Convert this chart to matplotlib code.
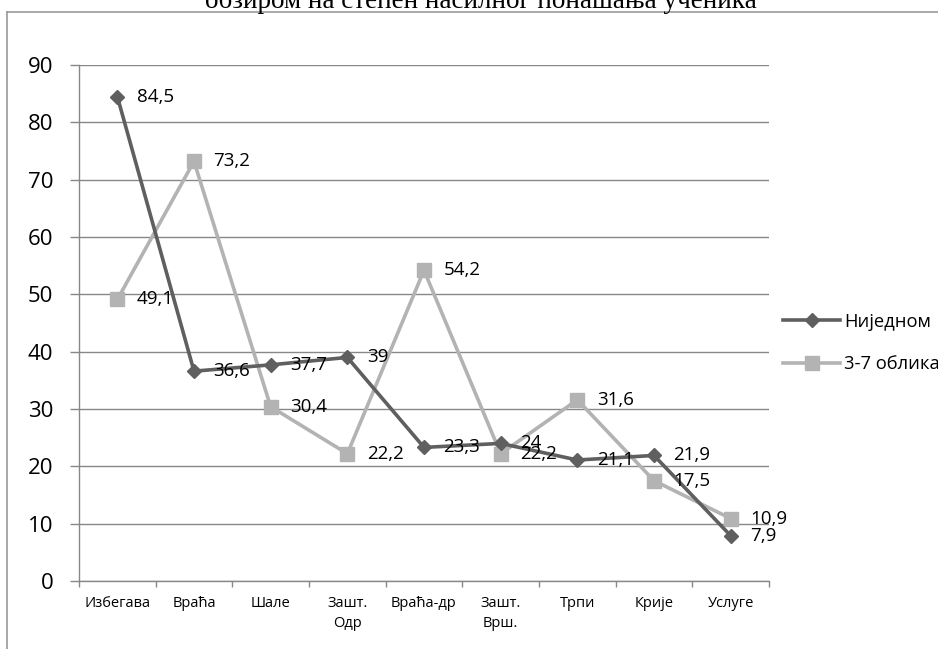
import matplotlib.pyplot as plt
from matplotlib.lines import Line2D
import numpy as np

categories = ["Избегава", "Враћа", "Шале", "Зашт.\nОдр", "Враћа-др",
              "Зашт.\nВрш.", "Трпи", "Крије", "Услуге"]
nijednom = [84.5, 36.6, 37.7, 39, 23.3, 24, 21.1, 21.9, 7.9]
oblika = [49.1, 73.2, 30.4, 22.2, 54.2, 22.2, 31.6, 17.5, 10.9]
series_names = ["Ниједном", "3-7 облика"]
title = "обзиром на степен насилног понашања ученика"

DARK = "#5f5f5f"
LIGHT = "#b3b3b3"
GRID = "#888888"

plt.rcParams["font.family"] = ["Open Sans", "DejaVu Sans"]

fig = plt.figure(figsize=(9.38, 6.49), dpi=100)
W, H = 938, 649
ax = fig.add_axes([79 / W, 1 - 581 / H, (769 - 79) / W, (581 - 65) / H])

x = np.arange(len(categories))
ax.plot(x, nijednom, color=DARK, lw=2.6, marker="D", ms=7.5, label=series_names[0], zorder=3)
ax.plot(x, oblika, color=LIGHT, lw=2.6, marker="s", ms=9.5, label=series_names[1], zorder=2)

# data labels to the right of each point, decimal comma
for xs, ys in [(x, nijednom), (x, oblika)]:
    for xi, yi in zip(xs, ys):
        ax.annotate(f"{yi:g}".replace(".", ","), (xi, yi), xytext=(14, 0),
                    textcoords="offset points", va="center", ha="left",
                    fontsize=13.5, color="black", zorder=5)

ax.set_xlim(-0.5, len(categories) - 0.5)
ax.set_ylim(0, 90)
ax.set_yticks(np.arange(0, 91, 10))
ax.tick_params(axis="y", labelsize=16, length=6.5, width=1, color=GRID, pad=12)
ax.set_xticks(x)
ax.set_xticklabels(categories, fontsize=10.5, linespacing=1.45)
ax.tick_params(axis="x", which="major", length=0, pad=11)
ax.set_xticks(np.arange(-0.5, len(categories), 1), minor=True)
ax.tick_params(axis="x", which="minor", length=4, width=1, color=GRID, direction="out")

ax.yaxis.grid(True, color=GRID, lw=1)
ax.set_axisbelow(True)
for side in ["top", "right"]:
    ax.spines[side].set_visible(False)
for side in ["left", "bottom"]:
    ax.spines[side].set_color(GRID)
    ax.spines[side].set_linewidth(1)

ax.legend(loc="center left", bbox_to_anchor=(776 / W, 1 - 343 / H),
          bbox_transform=fig.transFigure, frameon=False, fontsize=13.2,
          handlelength=3.1, handletextpad=0.2, labelspacing=1.35, borderaxespad=0)

# chart frame (partly outside the picture)
fig.add_artist(Line2D([7 / W, 1.0], [1 - 12 / H, 1 - 12 / H], color="#9a9a9a", lw=1.2))
fig.add_artist(Line2D([7 / W, 7 / W], [0, 1 - 12 / H], color="#9a9a9a", lw=1.2))

fig.text(481 / W, 1 - 8 / H, title, ha="center", va="baseline",
         family="Liberation Serif", fontsize=19.5)

fig.savefig("out.png", dpi=100)
